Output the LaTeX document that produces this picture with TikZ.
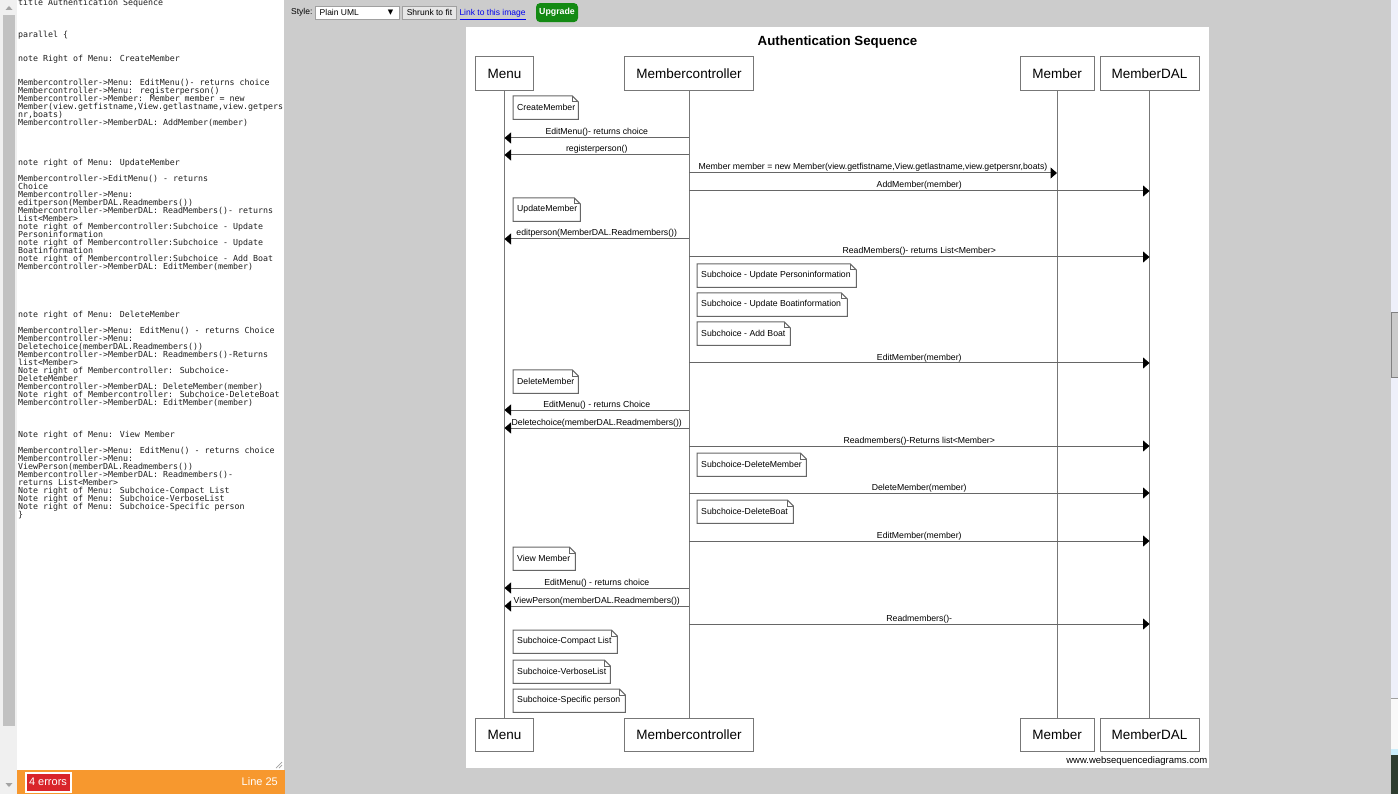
\documentclass[tikz,border=0pt]{standalone}
\usepackage{fontspec}
\setmainfont{Liberation Sans}
\newfontfamily\monof{DejaVu Sans Mono}
\newfontfamily\djv{DejaVu Sans}
\usetikzlibrary{arrows.meta}
\definecolor{pagegray}{HTML}{CCCCCC}
\definecolor{boxgray}{HTML}{777777}
\definecolor{linegray}{HTML}{666666}
\definecolor{srctext}{HTML}{1E1E1E}
\definecolor{trackgray}{HTML}{F0F0F0}
\definecolor{thumbgray}{HTML}{C1C1C1}
\definecolor{arrowgray}{HTML}{A3A3A3}
\definecolor{barorange}{HTML}{F7982E}
\definecolor{errred}{HTML}{D9252A}
\definecolor{linkblue}{HTML}{0000EE}
\definecolor{upgreen}{HTML}{138A13}
\definecolor{btnborder}{HTML}{A0A0A0}
\definecolor{stripblue}{HTML}{EEF0FA}
\definecolor{stripdark}{HTML}{2E3D30}
\newcommand\notefold[1]{%
  \draw[notedraw] (#1.south west) -- (#1.north west) -- ([xshift=-6pt]#1.north east)
    -- ([yshift=-6pt]#1.north east) -- (#1.south east) -- cycle;
  \draw[notedraw] ([xshift=-6pt]#1.north east) -- ([xshift=-6pt,yshift=-6pt]#1.north east)
    -- ([yshift=-6pt]#1.north east);}
\newcommand\notenode[5]{\node[notetext] (#1) at (#2,#3) {\makebox[#4pt][l]{#5}}; \notefold{#1}}
\newcommand\msgline[4]{\draw[msg] (#1.south |- 0,#3) -- node[lbl]{#4} (#2.south |- 0,#3);}
\begin{document}
\begin{tikzpicture}[x=1pt,y=-1pt,
  every node/.style={inner sep=0pt},
  lifebox/.style={draw=boxgray, line width=1pt, fill=white, minimum height=33.6pt,
    font=\fontsize{13.5}{15}\selectfont},
  life/.style={draw=boxgray, line width=1pt},
  msg/.style={draw=linegray, line width=1pt, -{Triangle[length=6.5pt,width=11pt,color=black]}},
  lbl/.style={font=\fontsize{8.7}{10}\selectfont, anchor=base, yshift=3pt},
  notetext/.style={anchor=north west, minimum height=23pt, inner xsep=4pt,
    font=\fontsize{8.7}{10}\selectfont},
  notedraw/.style={draw=linegray, line width=1pt},
  tool/.style={font=\fontsize{8.5}{10}\selectfont},
]
\useasboundingbox (0,0) rectangle (1398,794);
% page background
\fill[pagegray] (0,0) rectangle (1398,794);
% left scrollbar
\fill[trackgray] (0,0) rectangle (17,794);
\fill[thumbgray] (3,15) rectangle (15,726);
\fill[arrowgray] (5.5,10) -- (12.5,10) -- (9,6) -- cycle;
\fill[arrowgray] (5.5,783) -- (12.5,783) -- (9,787) -- cycle;
% source text area
\fill[white] (17,0) rectangle (283.5,770);
\draw[btnborder, line width=0.7pt] (276,768) -- (282,762) (279,768) -- (282,765);
\node[anchor=north west, align=left, text=srctext,
  font={\monof\fontsize{8.3}{8}\selectfont\lineskiplimit=-20pt}] (src) at (18,-1.3) {%
title Authentication Sequence\\ ~\\ ~\\ ~\\
parallel \{\\ ~\\ ~\\
note Right of Menu: CreateMember\\ ~\\ ~\\
Membercontroller->Menu: EditMenu()- returns choice\\
Membercontroller->Menu: registerperson()\\
Membercontroller->Member: Member member = new\\
Member(view.getfistname,View.getlastname,view.getpers\\
nr,boats)\\
Membercontroller->MemberDAL: AddMember(member)\\ ~\\ ~\\ ~\\ ~\\
note right of Menu: UpdateMember\\ ~\\
Membercontroller->EditMenu() - returns\\
Choice\\
Membercontroller->Menu:\\
editperson(MemberDAL.Readmembers())\\
Membercontroller->MemberDAL: ReadMembers()- returns\\
List<Member>\\
note right of Membercontroller:Subchoice - Update\\
Personinformation\\
note right of Membercontroller:Subchoice - Update\\
Boatinformation\\
note right of Membercontroller:Subchoice - Add Boat\\
Membercontroller->MemberDAL: EditMember(member)\\ ~\\ ~\\ ~\\ ~\\ ~\\
note right of Menu: DeleteMember\\ ~\\
Membercontroller->Menu: EditMenu() - returns Choice\\
Membercontroller->Menu:\\
Deletechoice(memberDAL.Readmembers())\\
Membercontroller->MemberDAL: Readmembers()-Returns\\
list<Member>\\
Note right of Membercontroller: Subchoice-\\
DeleteMember\\
Membercontroller->MemberDAL: DeleteMember(member)\\
Note right of Membercontroller: Subchoice-DeleteBoat\\
Membercontroller->MemberDAL: EditMember(member)\\ ~\\ ~\\ ~\\
Note right of Menu: View Member\\ ~\\
Membercontroller->Menu: EditMenu() - returns choice\\
Membercontroller->Menu:\\
ViewPerson(memberDAL.Readmembers())\\
Membercontroller->MemberDAL: Readmembers()-\\
returns List<Member>\\
Note right of Menu: Subchoice-Compact List\\
Note right of Menu: Subchoice-VerboseList\\
Note right of Menu: Subchoice-Specific person\\
\}};
% status bar
\fill[barorange] (17,770) rectangle (285,794);
\node[fill=errred, draw=white, line width=2pt, minimum width=45pt, minimum height=19pt,
  text=white, font=\fontsize{11}{12}\selectfont] (errs) at (48,782) {4 errors};
\node[anchor=east, text=white, font=\fontsize{11}{12}\selectfont] (lineno) at (278,782) {Line 25};
% right strip
\fill[stripblue] (1391,0) rectangle (1398,698);
\draw[btnborder, line width=1pt] (1391,698) -- (1398,698);
\fill[white!95!gray] (1391,699) rectangle (1398,753);
\fill[cyan!20] (1391,749) rectangle (1398,755);
\fill[stripdark] (1391,755) rectangle (1398,794);
\filldraw[fill=thumbgray!85!white, draw=gray, line width=1pt] (1391.5,313) rectangle (1399,377);
% toolbar
\node[tool, anchor=west] (stylelbl) at (291,12.5) {Style:};
\node[draw=btnborder, fill=white, line width=0.8pt, minimum width=84.5pt, minimum height=13pt,
  anchor=north west] (dd) at (314.8,6) {};
\node[tool, anchor=west] (ddtext) at (319.5,12) {Plain UML};
\node[font=\djv\fontsize{7}{8}\selectfont] (ddarrow) at (390.5,12.5) {▼};
\node[draw=btnborder, fill=btnborder!25!white, line width=0.8pt, minimum width=53.5pt,
  minimum height=13pt, tool] (shrunk) at (429.5,12.8) {Shrunk to fit};
\node[tool, anchor=base west, text=linkblue] (link) at (459.3,15.8) {\underline{Link to this image}};
\node[fill=upgreen, rounded corners=4pt, minimum width=42pt, minimum height=19pt,
  text=white, font=\bfseries\fontsize{8.8}{10}\selectfont] (upgrade) at (557,12.6) {Upgrade};
% diagram sheet
\fill[white] (466,27) rectangle (1209,768);
\node[font=\bfseries\fontsize{13.3}{15}\selectfont] (title) at (837.5,42) {Authentication Sequence};
\node[anchor=east, font=\fontsize{9.5}{11}\selectfont] (wsd) at (1207.5,761.5) {www.websequencediagrams.com};
% participants
\node[lifebox, minimum width=58.5pt] (menuT) at (504.5,73.5) {Menu};
\node[lifebox, minimum width=129pt] (mcT) at (689,73.5) {Membercontroller};
\node[lifebox, minimum width=74pt] (memT) at (1057,73.5) {Member};
\node[lifebox, minimum width=99pt] (dalT) at (1149.5,73.5) {MemberDAL};
\node[lifebox, minimum width=58.5pt] (menuB) at (504.5,735) {Menu};
\node[lifebox, minimum width=129pt] (mcB) at (689,735) {Membercontroller};
\node[lifebox, minimum width=74pt] (memB) at (1057,735) {Member};
\node[lifebox, minimum width=99pt] (dalB) at (1149.5,735) {MemberDAL};
\draw[life] (menuT.south) -- (menuB.north);
\draw[life] (mcT.south) -- (mcB.north);
\draw[life] (memT.south) -- (memB.north);
\draw[life] (dalT.south) -- (dalB.north);
% notes
\notenode{nCreate}{513}{96}{57}{CreateMember}
\notenode{nUpdate}{513}{198}{59}{UpdateMember}
\notenode{nPers}{697}{264}{151}{Subchoice - Update Personinformation}
\notenode{nBoat}{697}{293}{142}{Subchoice - Update Boatinformation}
\notenode{nAdd}{697}{322}{85}{Subchoice - Add Boat}
\notenode{nDelete}{513}{370}{57}{DeleteMember}
\notenode{nDelMem}{697}{453}{101}{Subchoice-DeleteMember}
\notenode{nDelBoat}{697}{500}{88}{Subchoice-DeleteBoat}
\notenode{nView}{513}{547}{54}{View Member}
\notenode{nCompact}{513}{630}{96}{Subchoice-Compact List}
\notenode{nVerbose}{513}{660}{89}{Subchoice-VerboseList}
\notenode{nSpecific}{513}{689}{104}{Subchoice-Specific person}
% messages
\msgline{mcT}{menuT}{138}{EditMenu()- returns choice}
\msgline{mcT}{menuT}{155}{registerperson()}
\msgline{mcT}{memT}{173}{Member member = new Member(view.getfistname,View.getlastname,view.getpersnr,boats)}
\msgline{mcT}{dalT}{191}{AddMember(member)}
\msgline{mcT}{menuT}{239}{editperson(MemberDAL.Readmembers())}
\msgline{mcT}{dalT}{257}{ReadMembers()- returns List<Member>}
\msgline{mcT}{dalT}{363}{EditMember(member)}
\msgline{mcT}{menuT}{410}{EditMenu() - returns Choice}
\msgline{mcT}{menuT}{428}{Deletechoice(memberDAL.Readmembers())}
\msgline{mcT}{dalT}{446}{Readmembers()-Returns list<Member>}
\msgline{mcT}{dalT}{493}{DeleteMember(member)}
\msgline{mcT}{dalT}{541}{EditMember(member)}
\msgline{mcT}{menuT}{588}{EditMenu() - returns choice}
\msgline{mcT}{menuT}{606}{ViewPerson(memberDAL.Readmembers())}
\msgline{mcT}{dalT}{624}{Readmembers()-}
\end{tikzpicture}
\end{document}
